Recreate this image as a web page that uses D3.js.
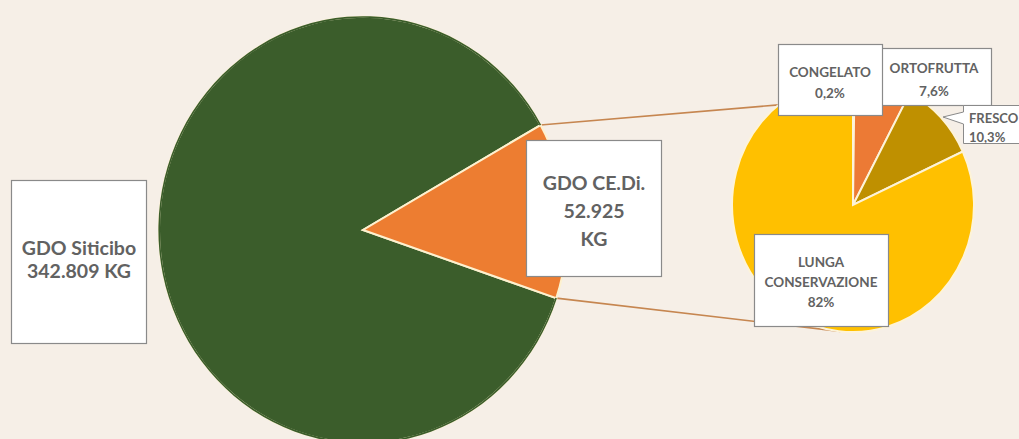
<!DOCTYPE html>
<html><head><meta charset="utf-8">
<script src="https://cdn.jsdelivr.net/npm/d3@7"></script>
<style>
html,body{margin:0;padding:0;background:#f6efe7;}
svg{display:block;}
text{font-family:Lato,"Open Sans",sans-serif;font-weight:bold;fill:#626262;}
</style></head>
<body>
<svg id="c" width="1019" height="439"></svg>
<script>
// ---- data ----
const mainCategories = ["GDO Siticibo", "GDO CE.Di."];
const mainValues = [342809, 52925];
const subCategories = ["CONGELATO", "ORTOFRUTTA", "FRESCO", "LUNGA CONSERVAZIONE"];
const subValues = [0.2, 7.6, 10.3, 82];

// ---- styles / layout ----
const mainColors = ["#3b5d2b", "#ed7d31"];
const subColors = ["#ed7d31", "#ec7a35", "#bf9000", "#ffc000"];
const bg = "#f6efe7";
const it = d3.formatLocale({decimal: ",", thousands: ".", grouping: [3], currency: ["", ""]});
const fmtKg = it.format(",d");
const fmtPct = v => (Number.isInteger(v) ? it.format("d")(v) : it.format(".1f")(v)) + "%";

const svg = d3.select("#c");
svg.append("rect").attr("width", 1019).attr("height", 439).attr("fill", bg);

const deg = Math.PI / 180;
const M = {cx: 363, cy: 230, r: 204, sy: 1.045};
const S = {cx: 853, cy: 205, r: 121, sy: 1.05};

// main pie: exploded slice (CE.Di.) first, starting at 60.5deg
const mainData = mainCategories.map((c, i) => ({cat: c, value: mainValues[i], color: mainColors[i]}));
const order = [1, 0];
const mainPie = d3.pie().value(d => d.value).sort((a, b) => order.indexOf(mainData.indexOf(a)) - order.indexOf(mainData.indexOf(b)))
  .startAngle(60.5 * deg).endAngle(420.5 * deg);
const mainArcs = mainPie(mainData);
const subData = subCategories.map((c, i) => ({cat: c, value: subValues[i], color: subColors[i]}));
const subPie = d3.pie().value(d => d.value).sort(null).startAngle(0).endAngle(2 * Math.PI);
const subArcs = subPie(subData);

const pt = (P, a) => [P.cx + P.r * Math.sin(a), P.cy - P.r * P.sy * Math.cos(a)];

// connector lines
const ce = mainArcs.find(a => a.data.cat === "GDO CE.Di.");
const linesG = svg.append("g");
[[pt(M, ce.startAngle), pt(S, -38 * deg)], [pt(M, ce.endAngle), pt(S, 186 * deg)]].forEach(([p, q]) => {
  linesG.append("line").attr("x1", p[0]).attr("y1", p[1]).attr("x2", q[0]).attr("y2", q[1])
    .attr("stroke", "#c68650").attr("stroke-width", 1.6);
});

const arcM = d3.arc().innerRadius(0).outerRadius(M.r);
svg.append("g").attr("transform", `translate(${M.cx},${M.cy}) scale(1,${M.sy})`)
  .selectAll("path").data(mainArcs).join("path")
  .attr("d", arcM).attr("fill", d => d.data.color)
  .attr("stroke", "#fdf1cf").attr("stroke-width", 2).attr("vector-effect", "non-scaling-stroke");
// re-draw green outer edge without cream stroke
svg.append("g").attr("transform", `translate(${M.cx},${M.cy}) scale(1,${M.sy})`)
  .append("path").attr("d", d3.arc().innerRadius(M.r - 1).outerRadius(M.r + 0.6)(mainArcs.find(a => a.data.cat === "GDO Siticibo")))
  .attr("fill", mainColors[0]);

const arcS = d3.arc().innerRadius(0).outerRadius(S.r);
svg.append("g").attr("transform", `translate(${S.cx},${S.cy}) scale(1,${S.sy})`)
  .selectAll("path").data(subArcs).join("path")
  .attr("d", arcS).attr("fill", d => d.data.color)
  .attr("stroke", "#fdf3d8").attr("stroke-width", 2).attr("vector-effect", "non-scaling-stroke");

// labels
function box(x, y, w, h, lines, cx, ys, size, shape, anchor) {
  const g = svg.append("g");
  if (shape) g.append("path").attr("d", shape).attr("fill", "#fff").attr("stroke", "#8a8a8a").attr("stroke-width", 1);
  else g.append("rect").attr("x", x).attr("y", y).attr("width", w).attr("height", h)
    .attr("fill", "#fff").attr("stroke", "#8a8a8a").attr("stroke-width", 1.2);
  lines.forEach((t, i) => g.append("text").attr("x", cx).attr("y", ys[i]).attr("text-anchor", anchor || "middle")
    .attr("dominant-baseline", "central").attr("font-size", size).text(t));
}
const mi = c => mainCategories.indexOf(c);
box(11.5, 180.5, 135, 163, [mainCategories[0], fmtKg(mainValues[mi("GDO Siticibo")]) + " KG"], 79, [247, 270], 19.5);
box(526.5, 140.5, 135, 136, [mainCategories[1], fmtKg(mainValues[mi("GDO CE.Di.")]), "KG"], 594, [182, 210, 238], 19.5);

const sv = c => fmtPct(subValues[subCategories.indexOf(c)]);
box(754.5, 234.5, 134, 92, ["LUNGA", "CONSERVAZIONE", sv("LUNGA CONSERVAZIONE")], 821, [262, 282, 302], 13.5);
box(878.5, 48.5, 113, 57, [subCategories[1], sv("ORTOFRUTTA")], 934, [68, 91], 13.5);
box(778.5, 44.5, 104, 71, [subCategories[0], sv("CONGELATO")], 830, [72, 93], 13.5);
box(0, 0, 0, 0, [subCategories[2], sv("FRESCO")], 969, [118, 137], 13, 
  "M963.5,105.5 L1040,105.5 L1040,143.5 L963.5,143.5 L963.5,124 L943,117 L963.5,112 Z", "start");
</script>
</body></html>
